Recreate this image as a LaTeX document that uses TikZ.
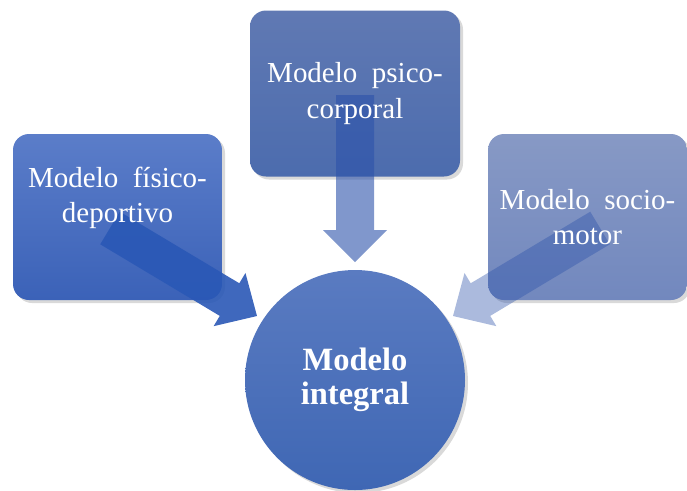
\documentclass[tikz,border=0pt]{standalone}
\usepackage{fontspec}
\setmainfont{Liberation Serif}
\usetikzlibrary{calc,shadows,positioning}

\definecolor{fisicoTop}{HTML}{5B7DC9}
\definecolor{fisicoBot}{HTML}{3B62B8}
\definecolor{psicoTop}{HTML}{6079B3}
\definecolor{psicoBot}{HTML}{4C6CAE}
\definecolor{socioTop}{HTML}{8799C5}
\definecolor{socioBot}{HTML}{7288BE}
\definecolor{integTop}{HTML}{5A7BC1}
\definecolor{integBot}{HTML}{3F67B4}
\definecolor{fisicoArrow}{HTML}{2A58B6}
\definecolor{arrowBlue}{HTML}{2C52AA}

% block arrow: #1 style, #2 start, #3 tip, #4 half shaft, #5 half head, #6 head length
\newcommand{\blockarrow}[6]{%
  \coordinate (hb) at ($(#3)!#6!(#2)$);
  \fill[#1] ($(#2)!#4!90:(#3)$) -- ($(hb)!#4!90:(#3)$) -- ($(hb)!#5!90:(#3)$)
    -- (#3) -- ($(hb)!#5!-90:(#3)$) -- ($(hb)!#4!-90:(#3)$)
    -- ($(#2)!#4!-90:(#3)$) -- cycle;
}

\begin{document}
\begin{tikzpicture}
\tikzset{
  modelbox/.style={rounded corners=0.32cm, minimum height=3.32cm,
    drop shadow={opacity=0.3, shadow xshift=0.06cm, shadow yshift=-0.06cm}},
  modeltext/.style={text=white, align=center, font=\fontsize{16.5}{20}\selectfont},
}
\useasboundingbox (0,0) rectangle (13.74,-9.8);

% boxes
\node[modelbox, minimum width=4.18cm, top color=fisicoTop, bottom color=fisicoBot] (fisico) at (2.35,-4.34) {};
\node[modelbox, minimum width=4.2cm, top color=psicoTop, bottom color=psicoBot] (psico) at (7.1,-1.87) {};
\node[modelbox, minimum width=3.98cm, top color=socioTop, bottom color=socioBot] (socio) at (11.75,-4.34) {};

% arrows
\coordinate (fisicoStart) at (2.2,-4.56);
\coordinate (fisicoTip) at (5.14,-6.32);
\coordinate (psicoStart) at (7.1,-1.9);
\coordinate (psicoTip) at (7.1,-5.24);
\coordinate (socioStart) at (12.0,-4.56);
\coordinate (socioTip) at (9.06,-6.32);
\blockarrow{fisicoArrow, fill opacity=0.9}{fisicoStart}{fisicoTip}{0.38cm}{0.62cm}{0.64cm}
\blockarrow{arrowBlue, fill opacity=0.6}{psicoStart}{psicoTip}{0.38cm}{0.64cm}{0.64cm}
\blockarrow{arrowBlue, fill opacity=0.4}{socioStart}{socioTip}{0.38cm}{0.62cm}{0.64cm}

% texts
\node[modeltext] (fisicoText) at ([yshift=0.38cm]fisico.center) {Modelo\hspace{0.25em} físico-\\deportivo};
\node[modeltext] (psicoText) at (psico.center) {Modelo\hspace{0.25em} psico-\\corporal};
\node[modeltext] (socioText) at (socio.center) {Modelo\hspace{0.25em} socio-\\motor};

% centre
\node[circle, minimum size=4.4cm, top color=integTop, bottom color=integBot,
  drop shadow={opacity=0.3, shadow xshift=0.06cm, shadow yshift=-0.06cm},
  text=white, align=center, font=\fontsize{18.5}{19.5}\selectfont\bfseries] (integral) at (7.1,-7.6) {Modelo\\integral};
\end{tikzpicture}
\end{document}
